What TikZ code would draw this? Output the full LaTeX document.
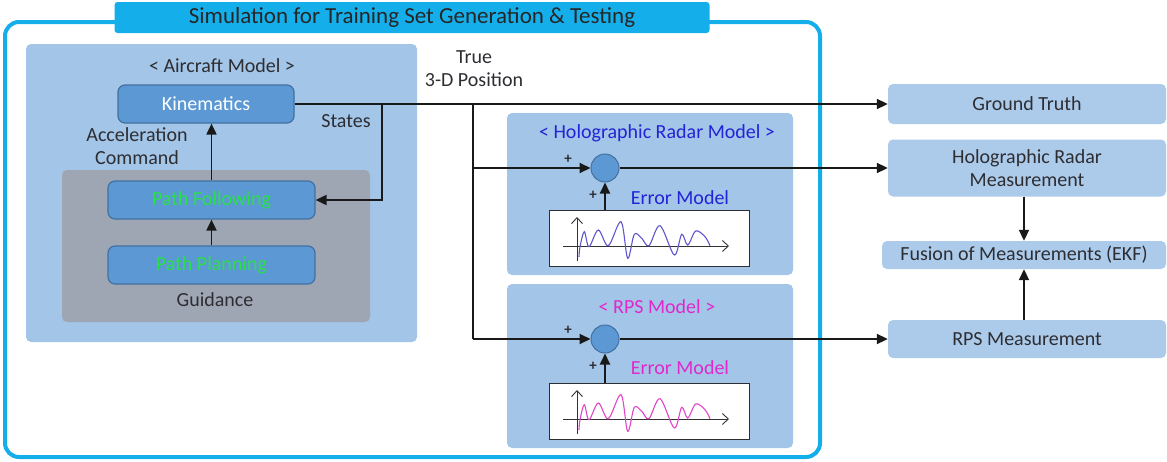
\documentclass[tikz,border=0pt]{standalone}
\usepackage{fontspec}
\setmainfont{Carlito}
\usetikzlibrary{arrows.meta}
\definecolor{cyanline}{RGB}{20,175,235}
\definecolor{txt}{RGB}{45,45,50}
\definecolor{lightbox}{RGB}{163,197,231}
\definecolor{rightbox}{RGB}{172,203,235}
\definecolor{midblue}{RGB}{92,153,212}
\definecolor{midborder}{RGB}{66,112,160}
\definecolor{guidgray}{RGB}{158,166,180}
\definecolor{greentxt}{RGB}{40,225,70}
\definecolor{holoblue}{RGB}{35,35,215}
\definecolor{rpsmag}{RGB}{225,40,205}
\definecolor{waveblue}{RGB}{95,85,205}
\definecolor{wavemag}{RGB}{225,70,200}
\begin{document}
\begin{tikzpicture}[x=1pt,y=-1pt,
  font=\fontsize{20}{23}\selectfont, text=txt,
  region/.style={rectangle, rounded corners=5pt, fill=lightbox, inner sep=0pt},
  rbox/.style={rectangle, rounded corners=5pt, fill=rightbox, inner sep=0pt, align=center},
  blk/.style={rectangle, rounded corners=7pt, fill=midblue, draw=midborder, line width=1.2pt, inner sep=0pt},
  sumnode/.style={circle, fill=midblue, draw=midborder, line width=1pt, minimum size=28pt, inner sep=0pt},
  plotbox/.style={rectangle, fill=white, draw=txt, line width=1pt, inner sep=0pt},
  arr/.style={line width=1.9pt, draw=black!90, -{Triangle[length=11pt,width=10pt]}},
  wire/.style={line width=1.9pt, draw=black!90},
  lbl/.style={inner sep=0pt, align=center},
  plus/.style={inner sep=0pt, font=\fontsize{15}{15}\selectfont\bfseries}]
\useasboundingbox (0,0) rectangle (1167,461);

% outer frame and title
\draw[cyanline, line width=4pt, rounded corners=14pt] (5,22) rectangle (820,457);
\node[rectangle, rounded corners=3pt, fill=cyanline, minimum width=595pt, minimum height=31pt, inner sep=0pt,
  font=\fontsize{23}{26}\selectfont, text=black!85] (title) at (412,17.5) {Simulation for Training Set Generation \& Testing};

% aircraft model region
\node[region, minimum width=391pt, minimum height=298pt] (acm) at (221.5,193) {};
\node[rectangle, rounded corners=5pt, fill=guidgray, minimum width=308pt, minimum height=152pt, inner sep=0pt] (guid) at (216,246) {};
\node[lbl] (acmlbl) at (222,66) {< Aircraft Model >};
\node[blk, minimum width=176pt, minimum height=38pt, text=white] (kin) at (206,104) {Kinematics};
\node[blk, minimum width=207pt, minimum height=38pt, text=greentxt] (pf) at (211.5,200) {Path Following};
\node[blk, minimum width=207pt, minimum height=38pt, text=greentxt] (pp) at (211.5,265) {Path Planning};
\node[lbl] (guidlbl) at (215,300) {Guidance};
\node[lbl] (acc) at (137,146) {Acceleration\\Command};
\node[lbl] (states) at (346,121) {States};
\node[lbl] (truepos) at (474,69) {True\\3-D Position};

% sensor model regions
\node[region, minimum width=286pt, minimum height=162pt] (holo) at (650,194) {};
\node[region, minimum width=286pt, minimum height=164pt] (rps) at (650,366) {};
\node[lbl, text=holoblue] (hololbl) at (657,133) {< Holographic Radar Model >};
\node[lbl, text=rpsmag] (rpslbl) at (657,307) {< RPS Model >};
\node[lbl, text=holoblue] (err1) at (680,198) {Error Model};
\node[lbl, text=rpsmag] (err2) at (680,368) {Error Model};
\node[plotbox, minimum width=200pt, minimum height=56pt] (plot1) at (649,238.5) {};
\node[plotbox, minimum width=200pt, minimum height=56pt] (plot2) at (649,411.5) {};
\node[sumnode] (c1) at (605,168) {};
\node[sumnode] (c2) at (605,339) {};
\node[plus] (p1a) at (568,159) {+};
\node[plus] (p1b) at (593,195) {+};
\node[plus] (p2a) at (568,330) {+};
\node[plus] (p2b) at (593,366) {+};

% waveforms
\foreach \dy/\wc in {0/waveblue,173/wavemag}{
  \begin{scope}[shift={(0,\dy)}]
    \draw[line width=0.9pt, black!80, -{Straight Barb[length=6pt,width=11pt]}] (577,261) -- (577,217);
    \draw[line width=0.9pt, black!80, -{Straight Barb[length=6pt,width=11pt]}] (563,246) -- (729,246);
    \draw[line width=1.1pt, \wc] plot[smooth, tension=0.55] coordinates {
      (579,257) (580,246.7) (584.3,231.7) (589,246.7) (598.3,230) (608.3,245.7)
      (621,221.7) (627.7,258.3) (634.3,234.3) (641.7,238.3) (649,245.7)
      (660,225.7) (674.3,255) (681.7,234.3) (687.7,245) (695.7,231)
      (705,236.7) (710,245.7)};
  \end{scope}
}

% right-hand boxes
\node[rbox, minimum width=278pt, minimum height=40pt] (gt) at (1027,104) {Ground Truth};
\node[rbox, minimum width=278pt, minimum height=57pt] (hrm) at (1027,168) {Holographic Radar\\Measurement};
\node[rbox, minimum width=284pt, minimum height=28pt] (fus) at (1024,255) {Fusion of Measurements (EKF)};
\node[rbox, minimum width=278pt, minimum height=38pt] (rpsm) at (1027,339) {RPS Measurement};

% connectors
\coordinate (j1) at (382,104);
\coordinate (j2) at (473,104);
\draw[arr] (kin.east) -- (gt.west);
\draw[arr] (j1) |- (pf.east);
\draw[wire] (j2) -- (473,339);
\draw[arr] (473,168) -- (c1.west);
\draw[arr] (473,339) -- (c2.west);
\draw[arr] (c1.east) -- (hrm.west);
\draw[arr] (c2.east) -- (rpsm.west);
\draw[arr] (plot1.north -| c1) -- (c1.south);
\draw[arr] (plot2.north -| c2) -- (c2.south);
\draw[arr] (pf.north) -- (pf.north |- kin.south);
\draw[arr] (pp.north) -- (pf.south);
\draw[arr] (hrm.south -| fus) -- (fus.north);
\draw[arr] (rpsm.north -| fus) -- (fus.south);
\end{tikzpicture}
\end{document}
